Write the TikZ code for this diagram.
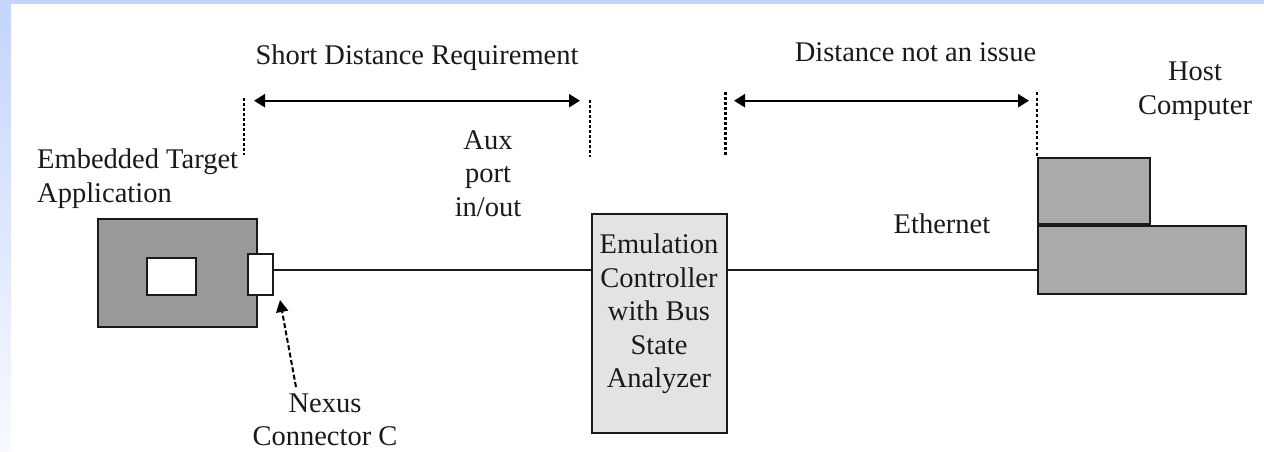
\documentclass[tikz,border=0pt]{standalone}
\usepackage{fontspec}
\setmainfont{Liberation Serif}
\usetikzlibrary{arrows.meta}

\definecolor{frameblue}{HTML}{C4D4FC}
\definecolor{framefade}{HTML}{F8FAFF}
\definecolor{boardgray}{HTML}{999999}
\definecolor{hostgray}{HTML}{AAAAAA}
\definecolor{emugray}{HTML}{E3E3E3}
\definecolor{inkgray}{HTML}{1A1A1A}

\tikzset{
  lbl/.style={inner sep=0pt, text=inkgray, font=\fontsize{28.5}{33.5}\selectfont},
  block/.style={draw=inkgray, line width=2pt, inner sep=0pt, anchor=north west},
  cable/.style={draw=inkgray, line width=1.8pt},
  span/.style={draw=black, line width=2.3pt, {Triangle[length=11pt,width=13pt]}-{Triangle[length=11pt,width=13pt]}},
  limitthick/.style={draw=black, line width=2.6pt, dash pattern=on 2.6pt off 2.4pt},
  limitthin/.style={draw=black, line width=1.4pt, dash pattern=on 3pt off 2.5pt},
  pointer/.style={draw=black, line width=2pt, dash pattern=on 5pt off 2.5pt, -{Triangle[length=12pt,width=12pt]}}
}

\begin{document}
\begin{tikzpicture}[x=1pt, y=-1pt]
  \useasboundingbox (0,0) rectangle (1264,451);
  \fill[white] (0,0) rectangle (1264,451);

  % window frame: top bar and fading left bar
  \fill[frameblue] (0,0) rectangle (1264,4);
  \shade[top color=frameblue, bottom color=framefade] (0,0) rectangle (11,451);

  % embedded target board, its chip and the Nexus connector
  \node[block, fill=boardgray, minimum width=159pt, minimum height=108pt] (board) at (97,218) {};
  \node[block, fill=white, minimum width=49pt, minimum height=37pt] (chip) at (146,257) {};
  \node[block, fill=white, minimum width=25pt, minimum height=41pt] (nexus) at (247,253) {};

  % emulation controller
  \node[block, fill=emugray, minimum width=135pt, minimum height=219pt] (emu) at (591,213) {};
  \node[lbl, align=center, anchor=north] (emutext) at (659,234)
    {Emulation\\Controller\\with Bus\\State\\Analyzer};

  % host computer: monitor on top of the base unit
  \node[block, fill=hostgray, minimum width=112pt, minimum height=66pt] (monitor) at (1037,157) {};
  \node[block, fill=hostgray, minimum width=208pt, minimum height=68pt] (hostbase) at (1037,225) {};

  % cables
  \coordinate (bus) at (0,270);
  \draw[cable] (nexus.east |- bus) -- (emu.west |- bus);
  \draw[cable] (emu.east |- bus) -- (hostbase.west |- bus);

  % distance limits
  \coordinate (la1) at (244,98);   \coordinate (lb1) at (244,155);
  \coordinate (la2) at (590,100);  \coordinate (lb2) at (590,157);
  \coordinate (la3) at (725.5,92); \coordinate (lb3) at (725.5,156);
  \coordinate (la4) at (1037,92);
  \draw[limitthick] (la1) -- (lb1);
  \draw[limitthick] (la2) -- (lb2);
  \draw[limitthick] (la3) -- (lb3);
  \draw[limitthin] (la4) -- (monitor.north west);

  \coordinate (s1) at (254,100.7);  \coordinate (s2) at (580,100.7);
  \coordinate (s3) at (734,100.7);  \coordinate (s4) at (1029,100.7);
  \draw[span] (s1) -- (s2);
  \draw[span] (s3) -- (s4);

  % labels
  \node[lbl, anchor=base] (shortlbl) at (417,64) {Short Distance Requirement};
  \node[lbl, anchor=base] (farlbl) at (915.5,61) {Distance not an issue};
  \node[lbl, align=center, anchor=north] (hostlbl) at (1195,62) {Host\\Computer};
  \node[lbl, align=left, anchor=north west] (targetlbl) at (37,149) {Embedded Target\\Application};
  \node[lbl, align=center, anchor=north] (auxlbl) at (488,130) {Aux\\port\\in/out};
  \node[lbl, anchor=base] (ethlbl) at (942,233) {Ethernet};
  \node[lbl, align=center, anchor=north] (nexuslbl) at (325,393.5) {Nexus\\Connector C};

  % pointer to the Nexus connector
  \coordinate (ptail) at (296,387);
  \coordinate (ptip) at (280,300);
  \draw[pointer] (ptail) -- (ptip);
\end{tikzpicture}
\end{document}
